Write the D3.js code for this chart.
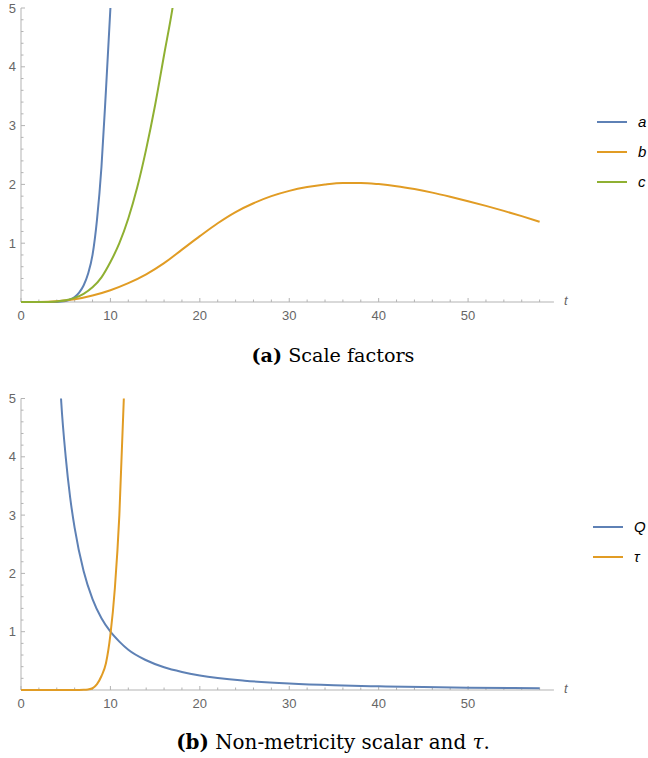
<!DOCTYPE html>
<html><head><meta charset="utf-8">
<script src="https://cdn.jsdelivr.net/npm/d3@7"></script>
<style>body{margin:0;background:#fff}svg{display:block}</style>
</head><body>
<svg id="c" width="648" height="758"></svg>
<script>
// Panel (a): scale factors
const tA = [0,2,3,4,4.5,5,5.5,6,6.5,7,7.5,8,8.5,9,9.5,10,10.1];
const aVals = [0,0,0.0005,0.002,0.007,0.018,0.042,0.085,0.16,0.28,0.48,0.8,1.4,2.3,3.6,5.0,5.3];
const tB = [0,2,4,6,8,10,12,14,16,18,20,22,24,26,28,30,32,34,36,38,40,42,44,46,48,50,52,54,56,58];
const bVals = [0,0.001,0.012,0.045,0.11,0.2,0.32,0.47,0.66,0.89,1.12,1.34,1.53,1.68,1.8,1.89,1.955,2.0,2.025,2.025,2.005,1.97,1.92,1.86,1.79,1.715,1.635,1.55,1.46,1.365];
const tC = [0,2,3,4,5,6,7,8,9,10,11,12,13,14,15,16,17,17.2];
const cVals = [0,0,0.002,0.01,0.03,0.07,0.14,0.25,0.42,0.68,1.0,1.42,1.95,2.6,3.35,4.2,5.05,5.25];
// Panel (b): non-metricity scalar Q and tau
const tQ = [4.4,4.5,5,5.5,6,7,8,9,10,11,12,14,16,18,20,25,30,35,40,45,50,55,58];
const qVals = [5.2,4.94,4.0,3.3,2.78,2.04,1.56,1.23,1.0,0.83,0.69,0.51,0.39,0.31,0.25,0.16,0.11,0.08,0.063,0.05,0.04,0.033,0.03];
const tT = [0,6,7,7.5,8,8.5,9,9.5,10,10.5,11,11.5,11.6];
const tauVals = [0,0,0.003,0.01,0.03,0.1,0.24,0.46,0.95,1.75,3.0,5.0,5.5];
const xTicks = [0,10,20,30,40,50];
const yTicks = [1,2,3,4,5];

const colors = {blue:"#5e81b5", orange:"#e19c24", green:"#8fb032"};
const svg = d3.select("#c");
const sans = "Liberation Sans, Arial, sans-serif";

function panel(top, bottom, series, legend, legendY, legendX, caption, capY, capW){
  const x = d3.scaleLinear().domain([0,60]).range([21, 557.5]);
  const y = d3.scaleLinear().domain([0,5]).range([bottom, top]);
  const g = svg.append("g");
  const clipId = "clip"+Math.round(top);
  g.append("clipPath").attr("id",clipId).append("rect")
    .attr("x",21).attr("y",top).attr("width",540).attr("height",bottom-top+2);
  const axisCol = "#b3b3b3";
  g.append("line").attr("x1",x(0)).attr("x2",x(59.6)).attr("y1",y(0)).attr("y2",y(0))
    .attr("stroke",axisCol).attr("stroke-width",1);
  g.append("line").attr("x1",x(0)).attr("x2",x(0)).attr("y1",y(0)).attr("y2",y(5))
    .attr("stroke",axisCol).attr("stroke-width",1);
  d3.range(0,59,2).forEach(v=>{
    const major = v%10===0;
    g.append("line").attr("x1",x(v)).attr("x2",x(v)).attr("y1",y(0)).attr("y2",y(0)-(major?4:2.5))
      .attr("stroke",axisCol);
  });
  d3.range(1,26).forEach(i=>{
    const v=i*0.2; const major = i%5===0;
    g.append("line").attr("x1",x(0)).attr("x2",x(0)+(major?4:2.5)).attr("y1",y(v)).attr("y2",y(v))
      .attr("stroke",axisCol);
  });
  xTicks.forEach(v=>{
    g.append("text").attr("x",x(v)).attr("y",y(0)+18).attr("text-anchor","middle")
      .attr("font-family",sans).attr("font-size",13).attr("fill","#666").text(v);
  });
  yTicks.forEach(v=>{
    g.append("text").attr("x",16).attr("y",y(v)+4.5).attr("text-anchor","end")
      .attr("font-family",sans).attr("font-size",13).attr("fill","#666").text(v);
  });
  g.append("text").attr("x",x(59.6)+10).attr("y",y(0)+3).attr("font-family",sans)
    .attr("font-style","italic").attr("font-size",13).attr("fill","#666").text("t");
  const line = d3.line().x(d=>x(d[0])).y(d=>y(d[1])).curve(d3.curveMonotoneX);
  const cg = g.append("g").attr("clip-path","url(#"+clipId+")");
  series.forEach(s=>{
    cg.append("path").datum(d3.zip(s.t,s.v)).attr("d",line).attr("fill","none")
      .attr("stroke",s.color).attr("stroke-width",2);
  });
  legend.forEach((l,i)=>{
    const yy = legendY + i*30;
    g.append("line").attr("x1",legendX).attr("x2",legendX+30).attr("y1",yy).attr("y2",yy)
      .attr("stroke",l.color).attr("stroke-width",2);
    g.append("text").attr("x",legendX+41).attr("y",yy+5).attr("font-family",sans)
      .attr("font-style","italic").attr("font-size",15).attr("fill","#000").text(l.label);
  });
  const cap = g.append("text").attr("x",333).attr("y",capY).attr("text-anchor","middle")
    .attr("font-family","DejaVu Serif, Liberation Serif, serif").attr("font-size",18).attr("fill","#000");
  cap.append("tspan").attr("font-weight","bold").text(caption[0]);
  cap.append("tspan").text(" "+caption[1]);
  if (caption[2]) {
    cap.append("tspan").attr("font-style","italic").text(caption[2]);
    cap.append("tspan").text(caption[3]);
  }
  const w = cap.node().getComputedTextLength();
  if (w > 0) cap.attr("font-size", 18*capW/w);
}

panel(8, 302,
  [{t:tA,v:aVals,color:colors.blue},{t:tB,v:bVals,color:colors.orange},{t:tC,v:cVals,color:colors.green}],
  [{label:"a",color:colors.blue},{label:"b",color:colors.orange},{label:"c",color:colors.green}],
  122, 597, ["(a)","Scale factors"], 362, 163);
panel(398.5, 690,
  [{t:tQ,v:qVals,color:colors.blue},{t:tT,v:tauVals,color:colors.orange}],
  [{label:"Q",color:colors.blue},{label:"τ",color:colors.orange}],
  527, 593, ["(b)","Non-metricity scalar and ","τ","."], 749, 314);
</script>
</body></html>
